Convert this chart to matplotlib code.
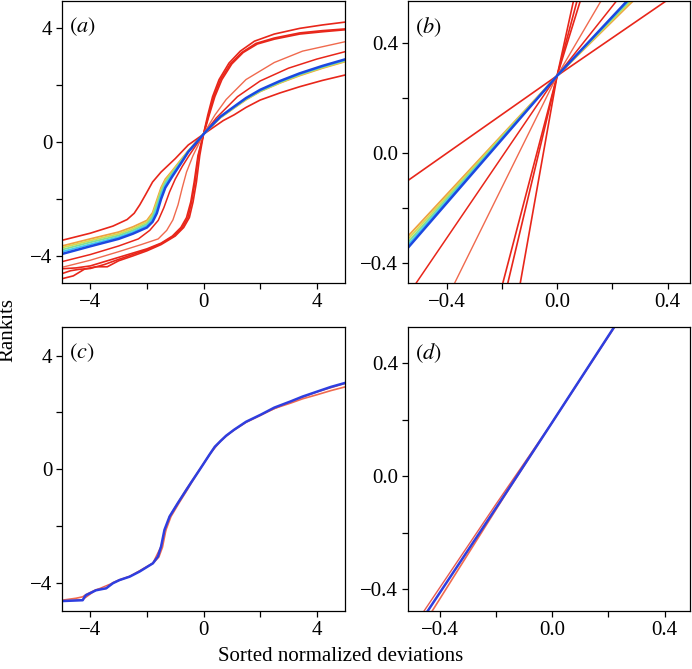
import matplotlib
matplotlib.use("Agg")
import matplotlib.pyplot as plt

plt.rcParams['font.family'] = ['Liberation Serif', 'DejaVu Serif']
plt.rcParams['mathtext.fontset'] = 'stix'
plt.rcParams['font.size'] = 15

# ---- panels (a)/(b): sorted normalized deviations (x) vs rankits (y) ----
r1_x = [-5.0, -4.0, -3.2, -2.7, -2.45, -2.25, -2.05, -1.8, -1.5, -1.0, -0.54, 0.0, 0.4, 0.7, 1.08, 1.5, 2.0, 2.7, 3.4, 4.2, 5.0]
r1_y = [-3.45, -3.2, -2.95, -2.72, -2.5, -2.2, -1.85, -1.4, -1.05, -0.58, -0.10, 0.28, 0.555, 0.76, 0.96, 1.22, 1.48, 1.73, 1.95, 2.17, 2.36]

rb_x = [-5.0, -4.0, -3.0, -2.5, -2.0, -1.8, -1.65, -1.5, -1.35, -1.1, -0.8, -0.54, 0.0, 0.257, 0.6, 1.08, 1.5, 2.0, 2.7, 3.4, 4.2, 5.0]
blue_y = [-3.93, -3.66, -3.40, -3.22, -3.00, -2.80, -2.50, -2.00, -1.60, -1.20, -0.75, -0.344, 0.28, 0.555, 0.90, 1.25, 1.55, 1.84, 2.15, 2.42, 2.68, 2.91]
cyan_y = [-3.85, -3.59, -3.34, -3.16, -2.93, -2.70, -2.35, -1.85, -1.50, -1.13, -0.71, -0.334, 0.28, 0.551, 0.89, 1.23, 1.53, 1.82, 2.13, 2.40, 2.66, 2.89]
green_y = [-3.78, -3.52, -3.28, -3.10, -2.87, -2.62, -2.22, -1.75, -1.42, -1.08, -0.68, -0.324, 0.28, 0.546, 0.88, 1.22, 1.52, 1.80, 2.11, 2.38, 2.64, 2.87]
yellow_y = [-3.71, -3.46, -3.22, -3.04, -2.81, -2.55, -2.12, -1.67, -1.36, -1.04, -0.65, -0.313, 0.28, 0.540, 0.87, 1.21, 1.50, 1.79, 2.09, 2.36, 2.62, 2.85]
orange_y = [-3.65, -3.40, -3.16, -2.98, -2.75, -2.48, -2.04, -1.60, -1.30, -1.00, -0.62, -0.302, 0.28, 0.534, 0.86, 1.20, 1.49, 1.78, 2.08, 2.34, 2.60, 2.83]

r2_x = [-5.0, -4.0, -3.0, -2.3, -1.9, -1.6, -1.4, -1.2, -1.0, -0.75, -0.509, 0.0, 0.218, 0.45, 0.7, 1.2, 2.0, 3.0, 4.0, 5.0]
r2_y = [-4.2, -3.95, -3.65, -3.4, -3.1, -2.75, -2.3, -1.75, -1.3, -0.85, -0.47, 0.28, 0.555, 0.85, 1.1, 1.6, 2.15, 2.6, 2.92, 3.18]

r3_x = [-5.0, -4.0, -3.0, -2.2, -1.6, -1.3, -1.08, -0.9, -0.75, -0.6, -0.37, 0.0, 0.161, 0.4, 0.8, 1.5, 2.5, 3.5, 5.0]
r3_y = [-4.4, -4.15, -3.85, -3.6, -3.4, -3.1, -2.73, -2.2, -1.6, -1.05, -0.47, 0.28, 0.555, 0.95, 1.5, 2.2, 2.8, 3.2, 3.53]

r4_x = [-5.0, -4.5, -4.0, -3.5, -3.0, -2.5, -2.0, -1.5, -1.1, -0.8, -0.6, -0.45, -0.33, -0.196, 0.0, 0.085, 0.2, 0.4, 0.65, 1.0, 1.4, 1.9, 2.5, 3.4, 4.2, 5.0]
r4_y = [-4.45, -4.42, -4.35, -4.2, -4.05, -3.9, -3.75, -3.55, -3.3, -3.0, -2.65, -2.1, -1.4, -0.47, 0.28, 0.555, 0.95, 1.6, 2.2, 2.75, 3.15, 3.45, 3.62, 3.8, 3.88, 3.95]

r5_x = [-5.0, -4.7, -4.4, -4.0, -3.5, -3.0, -2.5, -2.0, -1.5, -1.05, -0.75, -0.55, -0.42, -0.3, -0.178, 0.0, 0.073, 0.18, 0.36, 0.6, 0.95, 1.35, 1.85, 2.5, 3.4, 4.2, 5.0]
r5_y = [-4.62, -4.52, -4.47, -4.44, -4.3, -4.12, -3.95, -3.78, -3.57, -3.3, -3.0, -2.65, -2.1, -1.4, -0.47, 0.28, 0.555, 0.95, 1.6, 2.2, 2.75, 3.15, 3.47, 3.66, 3.84, 3.92, 3.98]

r6_x = [-5.0, -4.6, -4.2, -3.8, -3.4, -3.0, -2.5, -2.0, -1.5, -1.0, -0.7, -0.5, -0.37, -0.25, -0.133, 0.0, 0.06, 0.15, 0.32, 0.55, 0.9, 1.3, 1.8, 2.5, 3.4, 4.2, 5.0]
r6_y = [-4.8, -4.7, -4.46, -4.38, -4.38, -4.17, -4.0, -3.82, -3.6, -3.3, -3.0, -2.65, -2.1, -1.4, -0.47, 0.28, 0.555, 0.95, 1.6, 2.2, 2.78, 3.2, 3.55, 3.8, 4.0, 4.12, 4.22]

# ---- panels (c)/(d) ----
c_blue_x = [-5.0, -4.27, -4.2, -4.15, -3.8, -3.44, -3.2, -2.97, -2.61, -2.26, -1.79, -1.61, -1.5, -1.38, -1.2, -0.91, -0.6, -0.442, -0.169, 0.0, 0.22, 0.4, 0.61, 0.8, 1.08, 1.5, 2.02, 2.5, 3.08, 3.5, 4.03, 4.5, 5.0]
c_blue_y = [-4.65, -4.62, -4.5, -4.44, -4.27, -4.2, -4.02, -3.91, -3.79, -3.61, -3.32, -3.08, -2.73, -2.14, -1.67, -1.2, -0.72, -0.477, -0.067, 0.19, 0.527, 0.79, 1.0, 1.18, 1.39, 1.67, 1.92, 2.17, 2.39, 2.56, 2.74, 2.9, 3.04]

c_red_x = [-5.0, -4.5, -4.27, -4.15, -3.8, -3.44, -3.2, -2.97, -2.61, -2.26, -1.79, -1.58, -1.45, -1.33, -1.15, -0.87, -0.57, -0.426, -0.169, 0.0, 0.22, 0.4, 0.61, 0.8, 1.08, 1.5, 2.02, 2.5, 3.08, 3.5, 4.03, 4.5, 5.0]
c_red_y = [-4.62, -4.55, -4.5, -4.42, -4.25, -4.2, -4.0, -3.9, -3.78, -3.6, -3.32, -3.1, -2.75, -2.15, -1.67, -1.2, -0.72, -0.477, -0.07, 0.19, 0.525, 0.79, 1.0, 1.18, 1.38, 1.65, 1.9, 2.14, 2.33, 2.48, 2.63, 2.77, 2.9]

c_red2_x = [-5.0, -4.27, -3.8, -3.2, -2.61, -1.79, -1.5, -1.2, -0.62, -0.455, -0.2, 0.0, 0.22, 0.61, 1.08, 1.5, 2.02, 3.08, 4.03, 5.0]
c_red2_y = [-4.64, -4.6, -4.26, -4.01, -3.78, -3.31, -2.72, -1.66, -0.72, -0.477, -0.1, 0.19, 0.527, 1.0, 1.39, 1.66, 1.92, 2.38, 2.73, 3.02]

RED = '#e8261a'
RED_LIGHT = '#f06a4e'

fig = plt.figure(figsize=(6.92, 6.69), dpi=100)
ax_a = fig.add_axes([0.0896, 0.577, 0.409, 0.421])
ax_b = fig.add_axes([0.5896, 0.577, 0.407, 0.421])
ax_c = fig.add_axes([0.0896, 0.0867, 0.409, 0.424])
ax_d = fig.add_axes([0.5896, 0.0867, 0.407, 0.424])

for ax in (ax_a, ax_b):
    ax.plot(r6_x, r6_y, color=RED, lw=1.2)
    ax.plot(r5_x, r5_y, color=RED, lw=1.2)
    ax.plot(r4_x, r4_y, color=RED, lw=1.2)
    ax.plot(r3_x, r3_y, color=RED_LIGHT, lw=1.0)
    ax.plot(r2_x, r2_y, color=RED, lw=1.1)
    ax.plot(r1_x, r1_y, color=RED, lw=1.2)
    ax.plot(rb_x, orange_y, color='#f0a040', lw=1.3)
    ax.plot(rb_x, yellow_y, color='#d8d850', lw=1.3)
    ax.plot(rb_x, green_y, color='#80e090', lw=1.3)
    ax.plot(rb_x, cyan_y, color='#40c8f0', lw=1.3)
    ax.plot(rb_x, blue_y, color='#1c48e0', lw=1.8)

for ax in (ax_c, ax_d):
    ax.plot(c_red2_x, c_red2_y, color='#e85a50', lw=1.0)
    ax.plot(c_red_x, c_red_y, color=RED_LIGHT, lw=1.2)
    ax.plot(c_blue_x, c_blue_y, color='#2e3ee0', lw=1.8)

for ax in (ax_a, ax_c):
    ax.set_xlim(-5, 5)
    ax.set_xticks([-4, -2, 0, 2, 4])
    ax.set_xticklabels(['\u22124', '', '0', '', '4'])
    ax.set_yticks([-4, -2, 0, 2, 4])
    ax.set_yticklabels(['\u22124', '', '0', '', '4'])
ax_a.set_ylim(-4.95, 4.95)
ax_c.set_ylim(-5, 5)

for ax in (ax_b, ax_d):
    ax.set_xticks([-0.4, -0.2, 0.0, 0.2, 0.4])
    ax.set_xticklabels(['\u22120.4', '', '0.0', '', '0.4'])
    ax.set_yticks([-0.4, -0.2, 0.0, 0.2, 0.4])
    ax.set_yticklabels(['\u22120.4', '', '0.0', '', '0.4'])
ax_b.set_xlim(-0.54, 0.48)
ax_b.set_ylim(-0.472, 0.55)
ax_d.set_xlim(-0.512, 0.489)
ax_d.set_ylim(-0.477, 0.527)

for ax, lab in zip((ax_a, ax_b, ax_c, ax_d), ('a', 'b', 'c', 'd')):
    ax.tick_params(direction='out', length=4, width=0.9, labelsize=15, pad=3)
    for s in ax.spines.values():
        s.set_linewidth(0.9)
    ax.text(0.025, 0.95, r'$(%s)$' % lab, transform=ax.transAxes,
            ha='left', va='top', fontsize=16)

fig.text(0.012, 0.507, 'Rankits', rotation=90, ha='center', va='center', fontsize=15)
fig.text(0.492, 0.019, 'Sorted normalized deviations', ha='center', va='center', fontsize=15)

fig.savefig('out.png', dpi=100)
